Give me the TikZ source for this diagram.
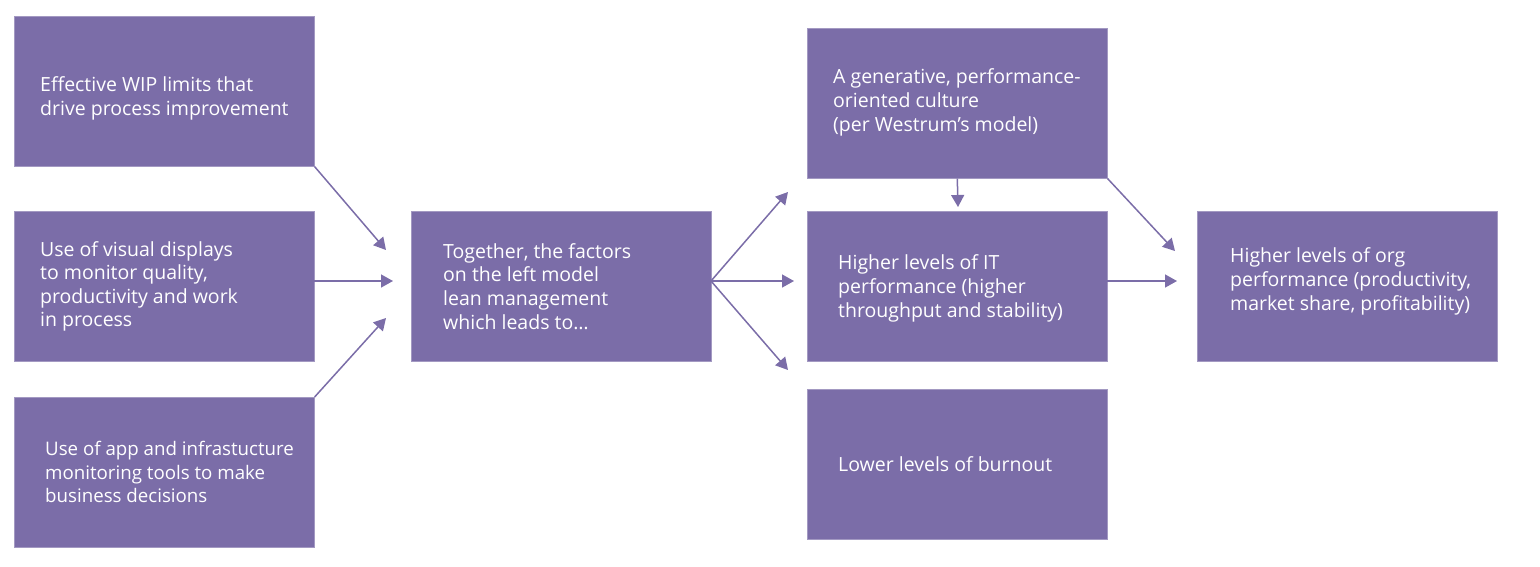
\documentclass[tikz,border=0pt]{standalone}
\usepackage{fontspec}
\setmainfont{Open Sans}
\usetikzlibrary{arrows.meta}
\definecolor{boxc}{HTML}{7B6DA8}
\tikzset{
  box/.style={fill=boxc, draw=boxc!70!white, line width=0.6pt, minimum width=300pt, minimum height=150pt, inner sep=0pt, anchor=north west},
  txt/.style={text=white, align=left, anchor=west, inner sep=0pt, font=\fontsize{19.5}{23.6}\selectfont},
  conn/.style={draw=boxc, line width=1.5pt, -{Triangle[length=12pt,width=13pt]}}
}
\begin{document}
\begin{tikzpicture}[x=1pt,y=-1pt]
\useasboundingbox (0,0) rectangle (1540,566);
% boxes
\node[box] (b1) at (14,16) {};
\node[box] (b2) at (14,211) {};
\node[box] (b3) at (14,397) {};
\node[box] (b4) at (411,211) {};
\node[box] (b5) at (807,28) {};
\node[box] (b6) at (807,211) {};
\node[box] (b7) at (807,389) {};
\node[box] (b8) at (1197,211) {};
% texts
\node[txt] (t1) at ([xshift=26pt,yshift=-7pt]b1.west) {Effective WIP limits that\\drive process improvement};
\node[txt] (t2) at ([xshift=26pt]b2.west) {Use of visual displays\\to monitor quality,\\productivity and work\\in process};
\node[txt,font=\fontsize{18.7}{23.6}\selectfont] (t3) at ([xshift=31pt]b3.west) {Use of app and infrastucture\\monitoring tools to make\\business decisions};
\node[txt] (t4) at ([xshift=32pt]b4.west) {Together, the factors\\on the left model\\lean management\\which leads to…};
\node[txt] (t5) at ([xshift=26pt,yshift=1pt]b5.west) {A generative, performance-\\oriented culture\\(per Westrum’s model)};
\node[txt] (t6) at ([xshift=31pt,yshift=-2pt]b6.west) {Higher levels of IT\\performance (higher\\throughput and stability)};
\node[txt] (t7) at ([xshift=31pt]b7.west) {Lower levels of burnout};
\node[txt] (t8) at ([xshift=33pt,yshift=5pt]b8.west) {Higher levels of org\\performance (productivity,\\market share, profitability)};
% arrow start/end coordinates
\coordinate (s2) at (314,281);
\coordinate (s4) at (711,281);
\coordinate (s6) at (1107,281);
\coordinate (e1) at (386,250);
\coordinate (e2) at (393,281);
\coordinate (e3) at (386,318);
\coordinate (e4) at (788,192);
\coordinate (e5) at (794,281);
\coordinate (e6) at (788,370);
\coordinate (e7) at (958,207);
\coordinate (e8) at (1175,251);
\coordinate (e9) at (1177,281);
% connectors
\draw[conn] (b1.south east) -- (e1);
\draw[conn] (s2) -- (e2);
\draw[conn] (b3.north east) -- (e3);
\draw[conn] (s4) -- (e4);
\draw[conn] (s4) -- (e5);
\draw[conn] (s4) -- (e6);
\draw[conn] (b5.south) -- (e7);
\draw[conn] (b5.south east) -- (e8);
\draw[conn] (s6) -- (e9);
\end{tikzpicture}
\end{document}
